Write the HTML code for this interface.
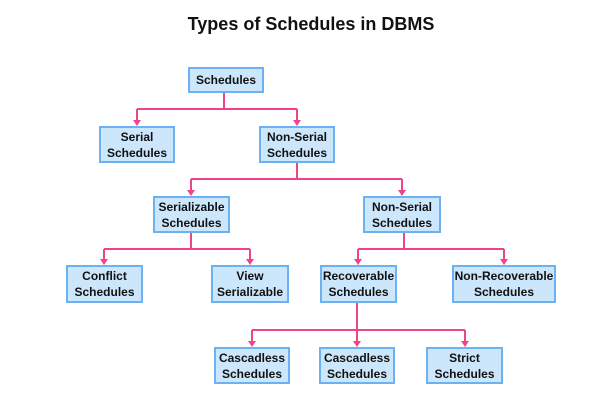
<!DOCTYPE html>
<html><head><meta charset="utf-8"><style>
html,body{margin:0;padding:0;background:#fff;}
body{width:616px;height:416px;position:relative;overflow:hidden;font-family:"Liberation Sans",sans-serif;}
.t{position:absolute;left:0;width:622px;top:14px;text-align:center;font-weight:bold;font-size:18px;color:#111;}
.b{position:absolute;box-sizing:border-box;background:#cce6fc;border:2px solid #6cb2f2;display:flex;align-items:center;justify-content:center;text-align:center;font-weight:bold;font-size:12px;line-height:16px;color:#111;}
svg{position:absolute;left:0;top:0;}
</style></head><body>
<div class="t">Types of Schedules in DBMS</div>
<svg width="616" height="416">
<g stroke="#f0448a" stroke-width="2" fill="none">
<path d="M224 93V109M137 109H297M137 109V121M297 109V121"/>
<path d="M297 163V179M191 179H402M191 179V191M402 179V191"/>
<path d="M191 233V249M104 249H250M104 249V260M250 249V260"/>
<path d="M404 233V249M358 249H504M358 249V260M504 249V260"/>
<path d="M357 303V330M252 330H465M252 330V342M357 330V342M465 330V342"/>
</g>
<g fill="#f0448a">
<path d="M133 120h8l-4 6z"/><path d="M293 120h8l-4 6z"/>
<path d="M187 190h8l-4 6z"/><path d="M398 190h8l-4 6z"/>
<path d="M100 259h8l-4 6z"/><path d="M246 259h8l-4 6z"/>
<path d="M354 259h8l-4 6z"/><path d="M500 259h8l-4 6z"/>
<path d="M248 341h8l-4 6z"/><path d="M353 341h8l-4 6z"/><path d="M461 341h8l-4 6z"/>
</g>
</svg>
<div class="b" style="left:188px;top:67px;width:76px;height:26px;">Schedules</div>
<div class="b" style="left:99px;top:126px;width:76px;height:37px;">Serial<br>Schedules</div>
<div class="b" style="left:259px;top:126px;width:76px;height:37px;">Non-Serial<br>Schedules</div>
<div class="b" style="left:153px;top:196px;width:77px;height:37px;">Serializable<br>Schedules</div>
<div class="b" style="left:363px;top:196px;width:78px;height:37px;">Non-Serial<br>Schedules</div>
<div class="b" style="left:66px;top:265px;width:77px;height:38px;">Conflict<br>Schedules</div>
<div class="b" style="left:211px;top:265px;width:78px;height:38px;">View<br>Serializable</div>
<div class="b" style="left:320px;top:265px;width:77px;height:38px;">Recoverable<br>Schedules</div>
<div class="b" style="left:452px;top:265px;width:104px;height:38px;">Non-Recoverable<br>Schedules</div>
<div class="b" style="left:214px;top:347px;width:76px;height:37px;">Cascadless<br>Schedules</div>
<div class="b" style="left:319px;top:347px;width:76px;height:37px;">Cascadless<br>Schedules</div>
<div class="b" style="left:426px;top:347px;width:77px;height:37px;">Strict<br>Schedules</div>
</body></html>
